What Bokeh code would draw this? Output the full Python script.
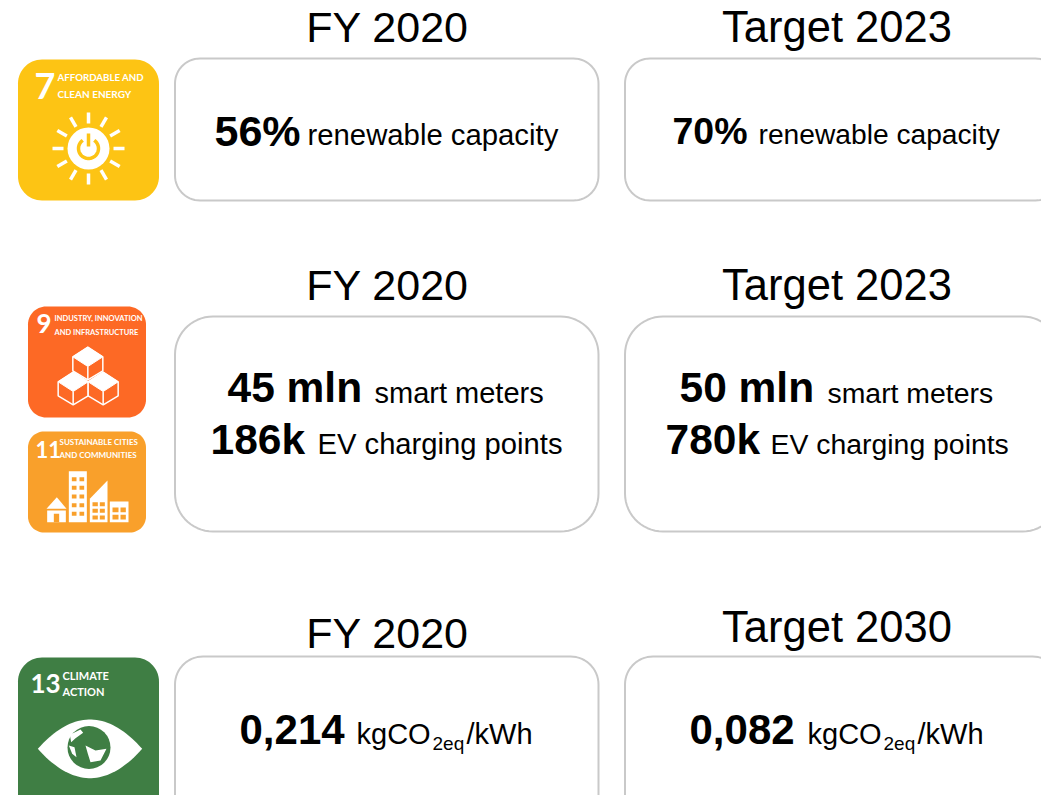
import numpy as np
from bokeh.plotting import figure
from bokeh.models import Range1d
from bokeh.core.properties import value
from bokeh.embed import file_html
from bokeh.resources import INLINE

# ---------- content ----------
row_headers_left = ["FY 2020", "FY 2020", "FY 2020"]
row_headers_right = ["Target 2023", "Target 2023", "Target 2030"]
renewable_values = ["56%", "70%"]
renewable_label = "renewable capacity"
meter_values = ["45 mln", "50 mln"]
meter_label = "smart meters"
charging_values = ["186k", "780k"]
charging_label = "EV charging points"
intensity_values = ["0,214", "0,082"]
intensity_unit = ["kgCO", "2eq", "/kWh"]

W, H = 1041, 795
p = figure(width=W, height=H, output_backend="svg", toolbar_location=None,
           x_range=Range1d(0, W), y_range=Range1d(H, 0),
           min_border=0, outline_line_color=None)
p.xaxis.visible = False
p.yaxis.visible = False
p.grid.visible = False
p.background_fill_color = "white"


def rr(x0, y0, x1, y1, r):
    xs, ys = [], []
    for cx, cy, a0 in [(x1 - r, y0 + r, -90), (x1 - r, y1 - r, 0), (x0 + r, y1 - r, 90), (x0 + r, y0 + r, 180)]:
        t = np.radians(np.linspace(a0, a0 + 90, 16))
        xs += list(cx + r * np.cos(t))
        ys += list(cy + r * np.sin(t))
    return xs, ys


def panel(x0, y0, x1, y1, r):
    xs, ys = rr(x0, y0, x1, y1, r)
    p.patch(xs, ys, fill_color="white", line_color="#c9c9c9", line_width=2)


def tile(x0, y0, x1, y1, r, color):
    xs, ys = rr(x0, y0, x1, y1, r)
    p.patch(xs, ys, fill_color=color, line_color=None)


def txt(x, y, s, size, bold=False, align="left", color="#000000", font="Liberation Sans"):
    p.text([x - 1 if align == "left" else x], [y], text=[s], text_font=value(font), text_font_size=f"{size}px",
           text_font_style="bold" if bold else "normal", text_align=align,
           text_baseline="middle", text_color=color)


# ---------- panels ----------
for (y0, y1, r) in [(58, 200, 25), (316, 531, 38), (656, 830, 28)]:
    panel(174.5, y0, 598, y1, r)
    panel(624.5, y0, 1060, y1, r)

# ---------- headers ----------
for cx, labels, mids, sz in [(387, row_headers_left, (26, 284, 632), 43),
                             (836.5, row_headers_right, (26, 284, 626), 43.5)]:
    for s, b in zip(labels, mids):
        txt(cx, b, s, sz, align="center")

# ---------- values ----------
txt(215, 130, renewable_values[0], 43, True)
txt(308, 134, renewable_label, 29.3)
txt(673, 130, renewable_values[1], 37.5, True)
txt(759, 133, renewable_label, 28.2)

txt(228, 387, meter_values[0], 42.5, True)
txt(375, 392, meter_label, 29)
txt(211, 439, charging_values[0], 42.5, True)
txt(318, 443, charging_label, 29.2)
txt(680, 387, meter_values[1], 42.5, True)
txt(828, 392, meter_label, 28.4)
txt(666, 439, charging_values[1], 42.5, True)
txt(771, 443, charging_label, 28.4)

for vx, ux, v in [(240, 357, intensity_values[0]), (690, 808, intensity_values[1])]:
    txt(vx, 729, v, 42, True)
    txt(ux, 733, intensity_unit[0], 29)
    txt(ux + 76, 743, intensity_unit[1], 19)
    txt(ux + 110, 733, intensity_unit[2], 29)

# ---------- SDG 7 ----------
Y7 = "#fdc414"
tile(17.5, 59, 158.5, 200, 24, Y7)
ICON = "Lato"
txt(35, 85, "7", 36, True, color="white", font=ICON)
txt(58, 76, "AFFORDABLE AND", 9.7, True, color="white", font=ICON)
txt(58, 93, "CLEAN ENERGY", 10, True, color="white", font=ICON)
cx7, cy7 = 88, 148
for a in np.radians(np.arange(0, 360, 30)):
    p.line([cx7 + 25 * np.cos(a), cx7 + 36 * np.cos(a)], [cy7 + 25 * np.sin(a), cy7 + 36 * np.sin(a)],
           line_color="white", line_width=3.5)
p.circle([cx7], [cy7], radius=21, fill_color="white", line_color=None)
t = np.radians(np.linspace(-55, 235, 40))
p.line(cx7 + 10 * np.cos(t), cy7 + 10 * np.sin(t), line_color=Y7, line_width=3.5)
p.line([cx7, cx7], [cy7 - 15, cy7 - 2], line_color=Y7, line_width=3.5)

# ---------- SDG 9 ----------
O9 = "#fd6925"
tile(27.5, 306, 145.5, 417, 18, O9)
txt(37, 323, "9", 26, True, color="white", font=ICON)
txt(55, 318, "INDUSTRY, INNOVATION", 7.5, True, color="white", font=ICON)
txt(55, 332, "AND INFRASTRUCTURE", 7.5, True, color="white", font=ICON)


def z9(pts):
    return [10 + a / 3 for a, _ in pts], [295 + b / 3 for _, b in pts]


for (tx, ty) in [(232, 155), (188, 230), (278, 230)]:
    cube_top = [(tx, ty), (tx + 45, ty + 29), (tx, ty + 58), (tx - 45, ty + 29)]
    cube_all = [(tx, ty), (tx + 45, ty + 29), (tx + 45, ty + 71), (tx, ty + 98), (tx - 45, ty + 71), (tx - 45, ty + 29)]
    xs, ys = z9(cube_all)
    p.patch(xs, ys, fill_color=O9, line_color="white", line_width=1.5)
    xs, ys = z9(cube_top)
    p.patch(xs, ys, fill_color="white", line_color="white", line_width=1)
    xs, ys = z9([(tx, ty + 58), (tx, ty + 98)])
    p.line(xs, ys, line_color="white", line_width=1.5)

# ---------- SDG 11 ----------
O11 = "#f9a02b"
tile(27.5, 431, 145.5, 532, 16, O11)
txt(36, 449, "11", 22, True, color="white", font=ICON)
txt(60, 441, "SUSTAINABLE CITIES", 8, True, color="white", font=ICON)
txt(60, 454, "AND COMMUNITIES", 8, True, color="white", font=ICON)


def poly(pts, color):
    xs, ys = z9(pts)
    p.patch(xs, ys, fill_color=color, line_color=None)


def box(x0, y0, x1, y1, color):
    poly([(x0, y0), (x1, y0), (x1, y1), (x0, y1)], color)


poly([(108, 640), (139, 605), (168, 640)], "white")
box(110, 645, 166, 680, "white")
box(130, 655, 146, 680, O11)
box(175, 527, 229, 680, "white")
for wy in range(545, 670, 26):
    box(184, wy, 198, wy + 12, O11)
    box(207, wy, 221, wy + 12, O11)
poly([(238, 610), (291, 555), (291, 680), (238, 680)], "white")
for wy in [620, 640, 660]:
    box(246, wy, 262, wy + 12, O11)
    box(268, wy, 283, wy + 12, O11)
box(298, 618, 354, 680, "white")
for wy in [636, 658]:
    box(306, wy, 324, wy + 14, O11)
    box(330, wy, 346, wy + 14, O11)

# ---------- SDG 13 ----------
G13 = "#3f7e44"
tile(17.5, 657, 158.5, 830, 24, G13)
txt(31, 683, "13", 26, True, color="white", font=ICON)
txt(63, 675, "CLIMATE", 11, True, color="white", font=ICON)
txt(63, 691, "ACTION", 11, True, color="white", font=ICON)


def z13(a, b):
    return np.asarray(a) / 3, 645 + np.asarray(b) / 3


s = np.linspace(0, 1, 40)
ax = 112 + (425 - 112) * s
top = 310 - 4 * 88 * s * (1 - s)
bot = 310 + 4 * 88 * s * (1 - s)
ex = np.concatenate([ax, ax[::-1]])
ey = np.concatenate([top, bot[::-1]])
gx, gy = z13(ex, ey)
p.patch(gx, gy, fill_color="white", line_color=None)
p.circle([88.5], [747], radius=21.5, fill_color=G13, line_color=None)
for pts in [[(208, 268), (240, 252), (248, 262), (225, 278), (212, 290)],
            [(255, 300), (285, 315), (318, 310), (300, 345), (270, 350), (262, 325)],
            [(205, 300), (222, 305), (228, 335), (215, 325)]]:
    a, b = z13([q[0] for q in pts], [q[1] for q in pts])
    p.patch(a, b, fill_color="white", line_color=None)

open("out.html", "w").write(file_html(p, INLINE))
